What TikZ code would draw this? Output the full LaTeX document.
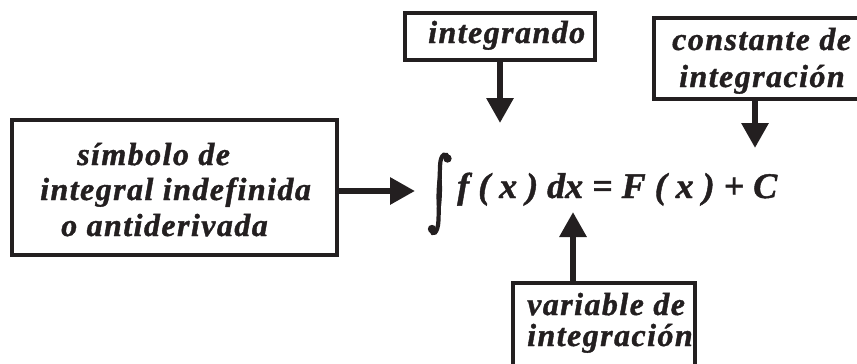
\documentclass[tikz,border=0pt]{standalone}
\usepackage{fontspec}
\setmainfont{Liberation Serif}[BoldItalicFont={Liberation Serif Bold Italic}]
\newfontfamily\lblfont{Liberation Serif}[LetterSpace=4.5, BoldItalicFont={Liberation Serif Bold Italic}, BoldItalicFeatures={FakeBold=1.2}]
\newfontfamily\eqfont{Liberation Serif}[BoldItalicFont={Liberation Serif Bold Italic}, BoldItalicFeatures={FakeBold=1.2}]
\usetikzlibrary{arrows.meta}
\definecolor{ink}{HTML}{231F20}
\tikzset{
  box/.style={draw=ink, line width=3.5pt, inner sep=0pt, fill=white},
  lbl/.style={anchor=base west, inner sep=0pt, text=ink, font=\lblfont\fontsize{32}{38}\selectfont\bfseries\itshape},
  arr/.style={draw=ink, line width=6pt, -{Triangle[length=25pt,width=26pt]}},
  eqtext/.style={anchor=base west, inner sep=0pt, text=ink, font=\eqfont\fontsize{36}{40}\selectfont\bfseries\itshape}
}
\begin{document}
\begin{tikzpicture}[x=1pt,y=-1pt]
\useasboundingbox (0,0) rectangle (857,364);
% boxes
\node[box, minimum width=325pt, minimum height=135pt] (L) at (174.5,187.5) {};
\node[box, minimum width=190pt, minimum height=47pt] (I) at (500,36.5) {};
\node[box, minimum width=208pt, minimum height=81pt] (C) at (758,58.5) {};
\node[box, minimum width=182pt, minimum height=89pt] (V) at (604,327.5) {};
% box texts
\node[lbl] (l1) at (77,165) {símbolo de};
\node[lbl] (l2) at (40,200) {integral indefinida};
\node[lbl] (l3) at (61,236) {o antiderivada};
\node[lbl] (i1) at (428,43) {integrando};
\node[lbl] (c1) at (672,50) {constante de};
\node[lbl] (c2) at (679,87) {integración};
\node[lbl] (v1) at (527,315) {variable de};
\node[lbl] (v2) at (527,346) {integración};
% integral sign
\draw[ink, line width=4.2pt] (448,157.5) .. controls (447,153) and (440.5,152) .. (440,166)
  -- (438.5,220) .. controls (438,234) and (432,236.5) .. (431.5,229.5);
\fill[ink] (440,166) .. controls (443.6,185) and (442,205) .. (438.5,220)
  .. controls (434.9,200) and (436.5,180) .. (440,166) -- cycle;
\fill[ink] (447.5,158.5) circle (4.2pt);
\fill[ink] (432,229) circle (4.2pt);
% equation
\node[eqtext] (eq) at (457,198) {f ( x ) dx = F ( x ) + C};
% arrow tips
\coordinate (tL) at (415,191);
\coordinate (tI) at (500,123);
\coordinate (tC) at (755,148);
\coordinate (tV) at (573,212);
% connectors
\draw[arr] (L.east |- tL) -- (tL);
\draw[arr] (I.south) -- (tI);
\draw[arr] (C.south -| tC) -- (tC);
\draw[arr] (V.north -| tV) -- (tV);
\end{tikzpicture}
\end{document}
